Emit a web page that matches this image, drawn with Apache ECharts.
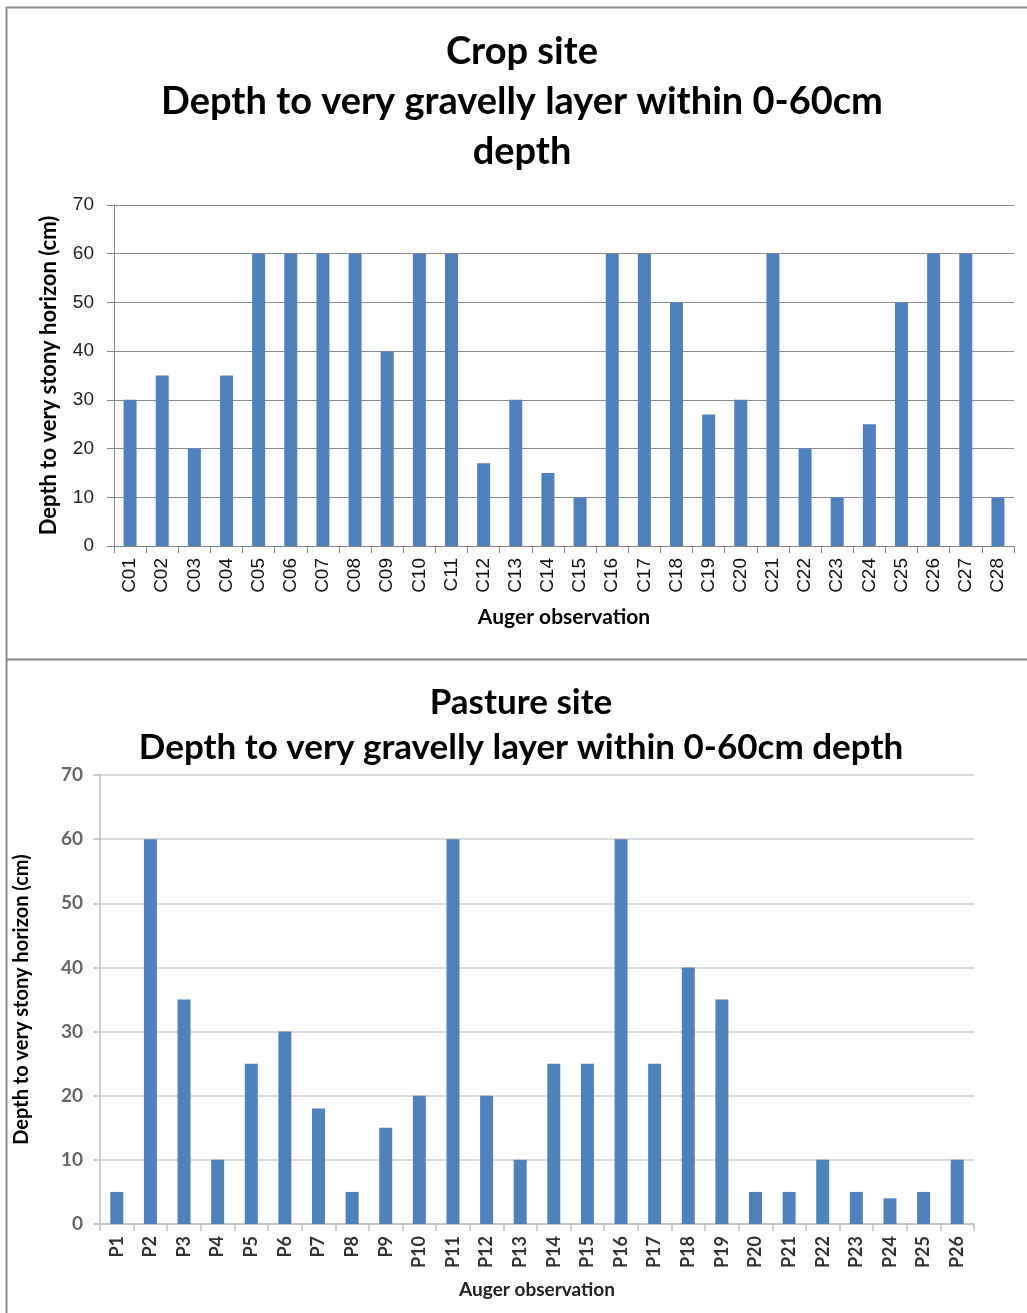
<!DOCTYPE html>
<html>
<head>
<meta charset="utf-8">
<title>Depth to very gravelly layer</title>
<script src="https://cdn.jsdelivr.net/npm/echarts@6/dist/echarts.min.js"></script>
<style>
  html, body { margin: 0; padding: 0; background: #fff; }
  #chart { width: 1027px; height: 1313px; }
</style>
</head>
<body>
<div id="chart"></div>
<script>
// Crop site auger observations and depth (cm) to the very gravelly layer
const cropSites = ['C01','C02','C03','C04','C05','C06','C07','C08','C09','C10','C11','C12','C13','C14',
                   'C15','C16','C17','C18','C19','C20','C21','C22','C23','C24','C25','C26','C27','C28'];
const cropDepth = [30, 35, 20, 35, 60, 60, 60, 60, 40, 60, 60, 17, 30, 15,
                   10, 60, 60, 50, 27, 30, 60, 20, 10, 25, 50, 60, 60, 10];

// Pasture site auger observations and depth (cm)
const pastureSites = ['P1','P2','P3','P4','P5','P6','P7','P8','P9','P10','P11','P12','P13',
                      'P14','P15','P16','P17','P18','P19','P20','P21','P22','P23','P24','P25','P26'];
const pastureDepth = [5, 60, 35, 10, 25, 30, 18, 5, 15, 20, 60, 20, 10,
                      25, 25, 60, 25, 40, 35, 5, 5, 10, 5, 4, 5, 10];

// Shared axis text
const depthTicks = { min: 0, max: 70, interval: 10 };
const yTitle = 'Depth to very stony horizon (cm)';
const xTitle = 'Auger observation';
const cropTitle = 'Crop site\nDepth to very gravelly layer within 0-60cm\ndepth';
const pastureTitle = 'Pasture site\nDepth to very gravelly layer within 0-60cm depth';

const BAR = '#4f81bd';
const TITLE_FONT = 'Lato, "Open Sans", sans-serif';
const ARIAL = '"Liberation Sans", Arial, sans-serif';

const chart = echarts.init(document.getElementById('chart'), null, { renderer: 'canvas' });

chart.setOption({
  backgroundColor: '#ffffff',
  animation: false,
  graphic: [
    // frame lines around the two panels
    { type: 'line', shape: { x1: 6.5, y1: 7, x2: 6.5, y2: 1313 }, style: { stroke: '#8a8a8a', lineWidth: 2 } },
    { type: 'line', shape: { x1: 6, y1: 7.5, x2: 1027, y2: 7.5 }, style: { stroke: '#8a8a8a', lineWidth: 2 } },
    { type: 'line', shape: { x1: 6, y1: 659.5, x2: 1027, y2: 659.5 }, style: { stroke: '#8a8a8a', lineWidth: 2 } },
    {
      type: 'text', x: 522, y: 27,
      style: {
        text: cropTitle, textAlign: 'center', textVerticalAlign: 'top',
        fontFamily: TITLE_FONT, fontWeight: 'bold', fontSize: 38, lineHeight: 50, fill: '#000'
      }
    },
    {
      type: 'text', x: 521, y: 680,
      style: {
        text: pastureTitle, textAlign: 'center', textVerticalAlign: 'top',
        fontFamily: TITLE_FONT, fontWeight: 'bold', fontSize: 35, lineHeight: 45, fill: '#000'
      }
    }
  ],
  grid: [
    { left: 114, top: 205, width: 900, height: 341, containLabel: false },
    { left: 100, top: 775, width: 874, height: 449, containLabel: false }
  ],
  xAxis: [
    {
      type: 'category', gridIndex: 0, data: cropSites,
      name: xTitle, nameLocation: 'middle', nameGap: 61,
      nameTextStyle: { fontFamily: TITLE_FONT, fontWeight: 'bold', fontSize: 21, color: '#000' },
      axisLine: { show: true, lineStyle: { color: '#868686', width: 1 } },
      axisTick: { show: true, length: 7, lineStyle: { color: '#868686' } },
      axisLabel: { rotate: 90, interval: 0, margin: 12, fontFamily: ARIAL, fontSize: 19, color: '#111' },
      splitLine: { show: false }
    },
    {
      type: 'category', gridIndex: 1, data: pastureSites,
      name: xTitle, nameLocation: 'middle', nameGap: 56,
      nameTextStyle: { fontFamily: TITLE_FONT, fontWeight: 'bold', fontSize: 19, color: '#222' },
      axisLine: { show: true, lineStyle: { color: '#bfbfbf', width: 1.5 } },
      axisTick: { show: true, length: 7, lineStyle: { color: '#bfbfbf', width: 1.5 } },
      axisLabel: { rotate: 90, interval: 0, margin: 12, fontFamily: TITLE_FONT, fontWeight: 'bold', fontSize: 18, color: '#333' },
      splitLine: { show: false }
    }
  ],
  yAxis: [
    {
      type: 'value', gridIndex: 0, ...depthTicks,
      name: yTitle, nameLocation: 'middle', nameGap: 54,
      nameTextStyle: { fontFamily: TITLE_FONT, fontWeight: 'bold', fontSize: 22, color: '#000' },
      axisLine: { show: true, lineStyle: { color: '#868686', width: 1 } },
      axisTick: { show: true, length: 7, lineStyle: { color: '#868686' } },
      axisLabel: { margin: 20, fontFamily: ARIAL, fontSize: 19, color: '#222' },
      splitLine: { show: true, lineStyle: { color: '#8c8c8c', width: 1 } }
    },
    {
      type: 'value', gridIndex: 1, ...depthTicks,
      name: yTitle, nameLocation: 'middle', nameGap: 68,
      nameTextStyle: { fontFamily: TITLE_FONT, fontWeight: 'bold', fontSize: 20, color: '#000' },
      axisLine: { show: true, lineStyle: { color: '#bfbfbf', width: 1.5 } },
      axisTick: { show: true, length: 7, lineStyle: { color: '#bfbfbf', width: 1.5 } },
      axisLabel: { margin: 17, fontFamily: TITLE_FONT, fontWeight: 'bold', fontSize: 19, color: '#666' },
      splitLine: { show: true, lineStyle: { color: '#cfcfcf', width: 1.5 } }
    }
  ],
  series: [
    {
      type: 'bar', xAxisIndex: 0, yAxisIndex: 0, data: cropDepth,
      barWidth: 13, itemStyle: { color: BAR }
    },
    {
      type: 'bar', xAxisIndex: 1, yAxisIndex: 1, data: pastureDepth,
      barWidth: 13, itemStyle: { color: BAR }
    }
  ]
});
</script>
</body>
</html>
